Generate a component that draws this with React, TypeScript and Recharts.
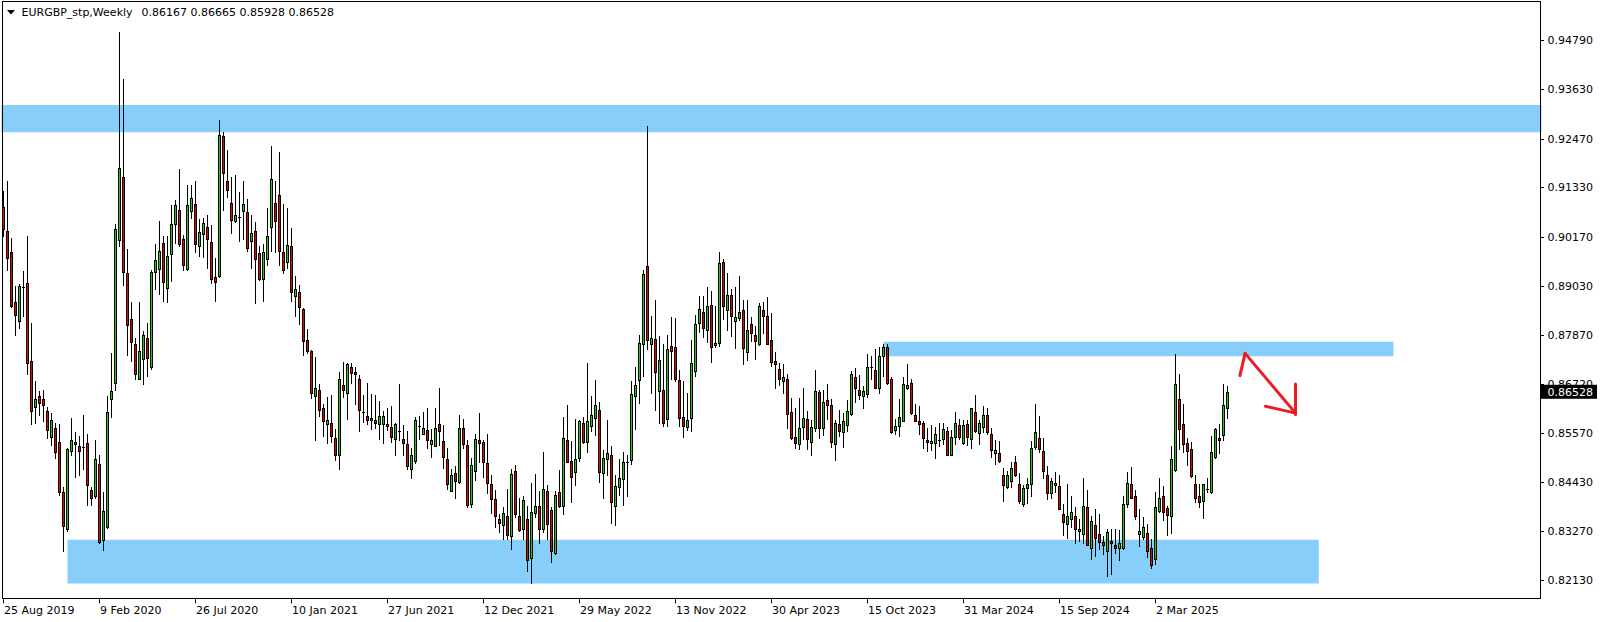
import React from 'react';
import { ComposedChart, Bar, XAxis, YAxis, ReferenceArea, ReferenceLine } from 'recharts';

// weekly EURGBP candles, [open, high, low, close], first bar = 25 Aug 2019
const candles: [number, number, number, number][] = [
  [0.9087, 0.9125, 0.9018, 0.9035], [0.9031, 0.9148, 0.8939, 0.8968], [0.8982, 0.9015, 0.8853, 0.8855], [0.8865, 0.8902, 0.8788, 0.8833],
  [0.8821, 0.8906, 0.8803, 0.8902], [0.8899, 0.8938, 0.8832, 0.8899], [0.8909, 0.902, 0.8696, 0.8722], [0.8726, 0.8814, 0.8578, 0.8608],
  [0.8619, 0.8679, 0.858, 0.8636], [0.8645, 0.8655, 0.8599, 0.8628], [0.8638, 0.8659, 0.8586, 0.8623], [0.8608, 0.8619, 0.8546, 0.8565],
  [0.8548, 0.8604, 0.8529, 0.8589], [0.857, 0.8582, 0.8499, 0.8513], [0.8536, 0.8578, 0.8413, 0.8419], [0.8419, 0.8432, 0.828, 0.834],
  [0.8333, 0.8522, 0.8327, 0.8519], [0.8516, 0.8593, 0.8505, 0.8542], [0.8531, 0.8559, 0.8454, 0.8536], [0.8526, 0.855, 0.8458, 0.8516],
  [0.8525, 0.8599, 0.8473, 0.8525], [0.8533, 0.8556, 0.8389, 0.8436], [0.8423, 0.843, 0.8389, 0.8404], [0.841, 0.854, 0.8406, 0.8497],
  [0.8484, 0.8507, 0.8299, 0.8302], [0.8306, 0.8419, 0.8284, 0.8374], [0.8336, 0.8645, 0.8335, 0.8606], [0.8638, 0.8746, 0.8596, 0.8655],
  [0.8675, 0.9048, 0.8658, 0.9035], [0.9009, 0.9498, 0.8996, 0.9178], [0.9157, 0.9387, 0.8904, 0.8934], [0.8932, 0.8988, 0.8741, 0.881],
  [0.8825, 0.8865, 0.8726, 0.8771], [0.8766, 0.8779, 0.8685, 0.8696], [0.8685, 0.8865, 0.8683, 0.875], [0.8731, 0.8797, 0.8673, 0.8788],
  [0.878, 0.8816, 0.8692, 0.8733], [0.8712, 0.8939, 0.8707, 0.8934], [0.8935, 0.9001, 0.8894, 0.8962], [0.8942, 0.9055, 0.8883, 0.8985],
  [0.9002, 0.9018, 0.8866, 0.8911], [0.8898, 0.9018, 0.8865, 0.8972], [0.8978, 0.9091, 0.8913, 0.9048], [0.9048, 0.9104, 0.9002, 0.9091],
  [0.908, 0.9177, 0.8996, 0.9001], [0.9012, 0.9022, 0.8939, 0.8951], [0.8942, 0.9138, 0.8939, 0.9091], [0.9078, 0.9138, 0.9061, 0.9108],
  [0.9095, 0.9147, 0.8981, 0.9001], [0.8996, 0.9059, 0.8972, 0.9028], [0.9024, 0.9061, 0.8969, 0.905], [0.9039, 0.9069, 0.8945, 0.9012],
  [0.9005, 0.9045, 0.8908, 0.8918], [0.8922, 0.8968, 0.8866, 0.8911], [0.8926, 0.9291, 0.8924, 0.9256], [0.9254, 0.9262, 0.9081, 0.9166],
  [0.9148, 0.9221, 0.9111, 0.9127], [0.9097, 0.9157, 0.9025, 0.9057], [0.9054, 0.9162, 0.9051, 0.9068], [0.9063, 0.9123, 0.9007, 0.9063],
  [0.9078, 0.9148, 0.9011, 0.9093], [0.9076, 0.9106, 0.8984, 0.899], [0.9008, 0.9069, 0.8945, 0.9026], [0.9031, 0.9051, 0.8862, 0.8965],
  [0.8979, 0.8996, 0.8915, 0.8919], [0.8918, 0.9001, 0.8866, 0.8982], [0.8965, 0.9085, 0.8952, 0.902], [0.9041, 0.9231, 0.8984, 0.9153],
  [0.9097, 0.9148, 0.8981, 0.9054], [0.9114, 0.9215, 0.8952, 0.8984], [0.8982, 0.9095, 0.8932, 0.8939], [0.8958, 0.9085, 0.8945, 0.8998],
  [0.8996, 0.9038, 0.8866, 0.8888], [0.8879, 0.8925, 0.8831, 0.8894], [0.8887, 0.8905, 0.8812, 0.8853], [0.8848, 0.8851, 0.8741, 0.8773],
  [0.8775, 0.8801, 0.8746, 0.875], [0.8749, 0.8752, 0.864, 0.8652], [0.8643, 0.8735, 0.8542, 0.8664], [0.8658, 0.8672, 0.8598, 0.8612],
  [0.8615, 0.8626, 0.855, 0.8585], [0.8578, 0.8642, 0.8535, 0.8589], [0.8582, 0.8647, 0.8537, 0.855], [0.8546, 0.8566, 0.8495, 0.8505],
  [0.8505, 0.87, 0.8473, 0.8685], [0.8669, 0.8724, 0.8642, 0.8659], [0.8652, 0.8722, 0.8591, 0.8718], [0.8713, 0.8722, 0.8675, 0.8699],
  [0.87, 0.8711, 0.8625, 0.8696], [0.8685, 0.8694, 0.8561, 0.8612], [0.8606, 0.8646, 0.8583, 0.8606], [0.8598, 0.8675, 0.8578, 0.8589],
  [0.8589, 0.8649, 0.8567, 0.8593], [0.8589, 0.8646, 0.857, 0.8582], [0.8579, 0.8632, 0.8543, 0.8598], [0.8578, 0.8608, 0.8533, 0.8598],
  [0.8578, 0.8617, 0.8565, 0.8574], [0.8572, 0.8621, 0.8537, 0.8548], [0.8544, 0.8582, 0.8506, 0.8578], [0.8563, 0.8672, 0.8542, 0.8563],
  [0.8544, 0.8576, 0.8505, 0.8535], [0.8531, 0.8561, 0.8473, 0.8479], [0.8473, 0.8522, 0.8453, 0.8505], [0.8492, 0.8596, 0.8486, 0.8589],
  [0.8574, 0.8598, 0.8543, 0.8574], [0.8556, 0.8606, 0.8555, 0.857], [0.8565, 0.8617, 0.8522, 0.854], [0.8531, 0.8567, 0.8501, 0.8542],
  [0.8527, 0.8615, 0.8527, 0.857], [0.8578, 0.8662, 0.8529, 0.8561], [0.8539, 0.8576, 0.8476, 0.8501], [0.8496, 0.8522, 0.8426, 0.8439],
  [0.8422, 0.8473, 0.8422, 0.846], [0.8463, 0.8479, 0.8406, 0.8446], [0.8443, 0.8599, 0.844, 0.857], [0.857, 0.8591, 0.8523, 0.8531],
  [0.8529, 0.854, 0.8385, 0.8389], [0.8392, 0.8499, 0.8383, 0.8483], [0.8469, 0.8555, 0.8447, 0.8544], [0.8542, 0.8604, 0.849, 0.8535],
  [0.8536, 0.854, 0.8454, 0.8489], [0.8486, 0.8555, 0.8417, 0.844], [0.8439, 0.8458, 0.837, 0.8402], [0.8403, 0.8423, 0.8338, 0.8362],
  [0.8357, 0.8368, 0.8326, 0.8347], [0.8343, 0.8385, 0.8308, 0.837], [0.8364, 0.8426, 0.8308, 0.8319], [0.8317, 0.8473, 0.8286, 0.8462],
  [0.8469, 0.8482, 0.836, 0.8368], [0.8363, 0.8406, 0.8327, 0.8329], [0.8333, 0.841, 0.8308, 0.84], [0.8357, 0.8386, 0.8233, 0.8259],
  [0.8265, 0.844, 0.8205, 0.8372], [0.837, 0.8462, 0.836, 0.8387], [0.8387, 0.8422, 0.8299, 0.8333], [0.8332, 0.8514, 0.8325, 0.8426],
  [0.8422, 0.8436, 0.831, 0.8344], [0.8376, 0.8385, 0.8254, 0.8282], [0.8277, 0.8422, 0.8273, 0.8411], [0.842, 0.8471, 0.8383, 0.8386],
  [0.8387, 0.8595, 0.8368, 0.8546], [0.854, 0.8623, 0.8489, 0.849], [0.8492, 0.8539, 0.8396, 0.8454], [0.8465, 0.8591, 0.8436, 0.8497],
  [0.8499, 0.8587, 0.8492, 0.8585], [0.8582, 0.8595, 0.8533, 0.8537], [0.8537, 0.8722, 0.8513, 0.8586], [0.8574, 0.8643, 0.8563, 0.8599],
  [0.8593, 0.8681, 0.8553, 0.8622], [0.8612, 0.8629, 0.8443, 0.8465], [0.8463, 0.8518, 0.8406, 0.8499], [0.8497, 0.8587, 0.846, 0.851],
  [0.8507, 0.8526, 0.8346, 0.8396], [0.8387, 0.8458, 0.8343, 0.8434], [0.843, 0.8496, 0.8413, 0.8453], [0.845, 0.8514, 0.8389, 0.849],
  [0.8489, 0.8505, 0.841, 0.8489], [0.8495, 0.8679, 0.8484, 0.8649], [0.8645, 0.8713, 0.8566, 0.867], [0.8681, 0.8788, 0.8628, 0.8769],
  [0.8765, 0.8939, 0.8692, 0.893], [0.8949, 0.9277, 0.8755, 0.8776], [0.8766, 0.8832, 0.8651, 0.878], [0.8778, 0.8868, 0.8612, 0.87],
  [0.8656, 0.8784, 0.8582, 0.8729], [0.8658, 0.8767, 0.8574, 0.8582], [0.8591, 0.8786, 0.8574, 0.8755], [0.8761, 0.8829, 0.8683, 0.8749],
  [0.8758, 0.8827, 0.8679, 0.8685], [0.8681, 0.8705, 0.8574, 0.8593], [0.8596, 0.8679, 0.8549, 0.8574], [0.8572, 0.8651, 0.8565, 0.8589],
  [0.8593, 0.8775, 0.8563, 0.8722], [0.8703, 0.8835, 0.8692, 0.8812], [0.8814, 0.8879, 0.8793, 0.8849], [0.8842, 0.8878, 0.8782, 0.8803],
  [0.8799, 0.8899, 0.8771, 0.8855], [0.8857, 0.8889, 0.8724, 0.8758], [0.8763, 0.8855, 0.8758, 0.8769], [0.8769, 0.8981, 0.8761, 0.8956],
  [0.8958, 0.8966, 0.8825, 0.8855], [0.8846, 0.8932, 0.8799, 0.8881], [0.8881, 0.8894, 0.8785, 0.8831], [0.8819, 0.8899, 0.8756, 0.8829],
  [0.8827, 0.8926, 0.8822, 0.8842], [0.8846, 0.8868, 0.872, 0.8756], [0.8748, 0.8868, 0.8728, 0.8799], [0.8812, 0.8829, 0.8773, 0.8792],
  [0.8786, 0.8809, 0.8731, 0.8773], [0.8767, 0.8862, 0.8763, 0.8855], [0.8846, 0.8865, 0.8792, 0.8831], [0.8832, 0.8876, 0.8766, 0.8766],
  [0.8776, 0.8838, 0.8715, 0.8724], [0.8726, 0.8748, 0.8664, 0.8718], [0.8707, 0.8722, 0.867, 0.8685], [0.8679, 0.872, 0.8651, 0.8688],
  [0.8685, 0.8696, 0.8569, 0.8602], [0.8606, 0.8639, 0.8544, 0.8546], [0.8548, 0.8616, 0.8523, 0.8535], [0.8531, 0.8639, 0.852, 0.857],
  [0.8572, 0.8662, 0.8544, 0.8593], [0.8591, 0.8609, 0.852, 0.8544], [0.8537, 0.8587, 0.8506, 0.8572], [0.857, 0.8705, 0.8563, 0.8656],
  [0.8653, 0.8659, 0.8546, 0.857], [0.857, 0.8658, 0.8553, 0.8629], [0.8634, 0.8672, 0.8591, 0.8623], [0.8622, 0.8636, 0.8525, 0.8537],
  [0.8531, 0.8589, 0.8495, 0.8582], [0.8578, 0.8612, 0.855, 0.8561], [0.8559, 0.8604, 0.8525, 0.8586], [0.8576, 0.8634, 0.8561, 0.8608],
  [0.8602, 0.8702, 0.8599, 0.8696], [0.8688, 0.8709, 0.863, 0.8664], [0.8659, 0.8694, 0.8636, 0.8647], [0.8645, 0.8668, 0.8616, 0.8655],
  [0.8649, 0.8743, 0.8642, 0.8711], [0.8712, 0.8737, 0.8683, 0.8712], [0.8706, 0.8755, 0.8664, 0.8664], [0.8664, 0.8758, 0.8651, 0.8739],
  [0.8739, 0.8767, 0.8692, 0.8758], [0.8758, 0.8767, 0.8672, 0.8675], [0.8683, 0.8689, 0.8557, 0.8559], [0.8565, 0.8591, 0.8556, 0.8574],
  [0.8574, 0.8636, 0.855, 0.8596], [0.8586, 0.8688, 0.8586, 0.8673], [0.8664, 0.8718, 0.866, 0.867], [0.8675, 0.8685, 0.8602, 0.8604],
  [0.86, 0.8625, 0.8585, 0.8586], [0.8586, 0.8621, 0.8556, 0.8578], [0.8582, 0.8585, 0.8523, 0.8546], [0.8542, 0.857, 0.8516, 0.8536],
  [0.8533, 0.8576, 0.8518, 0.8539], [0.8535, 0.8572, 0.8499, 0.8556], [0.8542, 0.858, 0.8527, 0.8542], [0.8543, 0.8582, 0.8531, 0.8567],
  [0.8563, 0.8572, 0.8505, 0.8507], [0.8505, 0.8565, 0.8505, 0.8549], [0.8549, 0.8606, 0.8531, 0.858], [0.8576, 0.8591, 0.8543, 0.8549],
  [0.8535, 0.8589, 0.8531, 0.8576], [0.8579, 0.8589, 0.8529, 0.8549], [0.8543, 0.8616, 0.8523, 0.8616], [0.8606, 0.8647, 0.8559, 0.8561],
  [0.8557, 0.8589, 0.8531, 0.858], [0.8572, 0.8621, 0.8559, 0.86], [0.86, 0.8616, 0.8556, 0.8559], [0.8556, 0.857, 0.8501, 0.8518],
  [0.851, 0.8542, 0.8484, 0.8518], [0.851, 0.8539, 0.849, 0.8492], [0.8458, 0.8475, 0.8398, 0.8436], [0.843, 0.8469, 0.8428, 0.8458],
  [0.8446, 0.8489, 0.8432, 0.8476], [0.849, 0.8503, 0.8456, 0.8458], [0.8439, 0.8463, 0.8393, 0.8398], [0.8392, 0.8436, 0.8386, 0.8428],
  [0.8428, 0.8453, 0.8393, 0.8439], [0.8439, 0.8539, 0.841, 0.8522], [0.8525, 0.8626, 0.852, 0.8559], [0.8546, 0.8598, 0.8513, 0.852],
  [0.8516, 0.8546, 0.8453, 0.8469], [0.846, 0.8479, 0.8403, 0.8417], [0.8416, 0.8452, 0.8406, 0.8445], [0.8436, 0.8467, 0.8419, 0.8441],
  [0.8434, 0.8458, 0.8379, 0.838], [0.8368, 0.839, 0.8319, 0.835], [0.8344, 0.8437, 0.8312, 0.8364], [0.8355, 0.841, 0.8338, 0.8372],
  [0.8364, 0.8383, 0.8299, 0.8332], [0.8327, 0.8356, 0.8304, 0.8333], [0.8321, 0.8452, 0.8299, 0.8387], [0.8385, 0.8423, 0.8295, 0.8296],
  [0.8287, 0.8362, 0.8263, 0.8351], [0.8342, 0.8379, 0.8269, 0.8312], [0.832, 0.8368, 0.8286, 0.8303], [0.8302, 0.8316, 0.8273, 0.8296],
  [0.8282, 0.8332, 0.8223, 0.8325], [0.8304, 0.8332, 0.8226, 0.83], [0.8295, 0.8332, 0.8277, 0.8289], [0.8287, 0.8329, 0.826, 0.8299],
  [0.8289, 0.841, 0.8286, 0.839], [0.839, 0.8466, 0.8385, 0.8441], [0.8437, 0.8477, 0.8406, 0.8406], [0.841, 0.8423, 0.8357, 0.8362],
  [0.8321, 0.838, 0.8293, 0.8327], [0.8313, 0.836, 0.8308, 0.8338], [0.8323, 0.8344, 0.8267, 0.828], [0.8287, 0.8308, 0.8241, 0.8248],
  [0.8263, 0.842, 0.825, 0.8383], [0.8374, 0.8453, 0.8372, 0.8406], [0.841, 0.8433, 0.8353, 0.8373], [0.8381, 0.8387, 0.8319, 0.8366],
  [0.8362, 0.8526, 0.8323, 0.8497], [0.8471, 0.8742, 0.8469, 0.8673], [0.8638, 0.8696, 0.852, 0.8566], [0.8578, 0.8626, 0.8513, 0.8531],
  [0.8535, 0.8546, 0.8482, 0.8516], [0.8519, 0.8536, 0.8454, 0.8456], [0.8439, 0.846, 0.8396, 0.8406], [0.841, 0.8439, 0.8383, 0.8396],
  [0.8398, 0.8439, 0.8359, 0.8437], [0.8426, 0.8452, 0.842, 0.8426], [0.842, 0.855, 0.8416, 0.8513], [0.8501, 0.857, 0.8499, 0.8567],
  [0.8546, 0.8578, 0.851, 0.8542], [0.8553, 0.8673, 0.854, 0.8623], [0.86167, 0.86665, 0.85928, 0.86528],
];

const dateLabels = [
  '25 Aug 2019', '9 Feb 2020', '26 Jul 2020', '10 Jan 2021', '27 Jun 2021', '12 Dec 2021', '29 May 2022',
  '13 Nov 2022', '30 Apr 2023', '15 Oct 2023', '31 Mar 2024', '15 Sep 2024', '2 Mar 2025',
];
const weeksPerLabel = 24;

const priceTicks = [0.9479, 0.9363, 0.9247, 0.9133, 0.9017, 0.8903, 0.8787, 0.8672, 0.8557, 0.8443, 0.8327, 0.8213];
const lastPrice = 0.86528;

// supply / demand zones: [from bar, to bar, upper price, lower price]
const zones: [number, number, number, number][] = [
  [-0.5, 384.5, 0.9326, 0.9262],
  [220, 347.5, 0.8771, 0.8737],
  [16, 328.8, 0.8307, 0.8205],
];

// hand-drawn arrow, [bar, price] pairs
const arrow: [number, number][][] = [
  [[309.1, 0.8692], [310.4, 0.8744]],
  [[310.4, 0.8744], [323, 0.8604]],
  [[315.5, 0.8620], [323, 0.8604]],
  [[323, 0.8672], [323, 0.8601]],
];

const slots = 385;
const rows = Array.from({ length: slots }, (_, i) => {
  const k = candles[i];
  return k ? { i, o: k[0], h: k[1], l: k[2], c: k[3], range: [k[2], k[1]] } : { i };
});

const font = { fontFamily: 'DejaVu Sans', fontSize: 11 };

const Candle = (props: any) => {
  const { x, y, width, height, payload } = props;
  if (!payload || payload.o == null || !isFinite(y) || !isFinite(height)) return <g />;
  const { o, h, l, c } = payload;
  const k = height / (h - l);
  const py = (v: number) => y + (h - v) * k;
  const cx = x + width / 2;
  const top = Math.round(py(Math.max(o, c)));
  const bot = Math.round(py(Math.min(o, c)));
  return (
    <g>
      <line x1={cx} x2={cx} y1={Math.round(y)} y2={Math.round(y + height) + 1} stroke="#000" strokeWidth={1} />
      {bot - top < 1 ? (
        <line x1={cx - 1.5} x2={cx + 1.5} y1={top + 0.5} y2={top + 0.5} stroke="#000" strokeWidth={1} />
      ) : (
        <rect x={cx - 1} y={top + 0.5} width={2} height={bot - top} fill={c > o ? '#00dc00' : '#e60000'} stroke="#000" strokeWidth={1} />
      )}
    </g>
  );
};

const DateTick = (props: any) => {
  const { x, y, payload } = props;
  const label = dateLabels[Math.round(payload.value / weeksPerLabel)];
  return (
    <g>
      <line x1={x} x2={x} y1={y + 1} y2={y + 5} stroke="#000" />
      <text x={x + 0.5} y={613.5} {...font} fill="#000">{label}</text>
    </g>
  );
};

const PriceTick = (props: any) => {
  const { x, y, payload } = props;
  if (payload.value === lastPrice) {
    return (
      <g>
        <rect x={x - 0.5} y={y - 7.5} width={56} height={14} fill="#000" />
        <text x={x + 6} y={y + 4} {...font} fill="#fff">{lastPrice.toFixed(5)}</text>
      </g>
    );
  }
  const yy = Math.round(y) + 0.5;
  return (
    <g>
      <line x1={x - 0.5} x2={x + 2.5} y1={yy} y2={yy} stroke="#000" />
      <text x={x + 6} y={y + 4} {...font} fill="#000">{payload.value.toFixed(5)}</text>
    </g>
  );
};

export default function App() {
  return (
    <div style={{ position: 'absolute', left: 0, top: 0, width: 1604, height: 622, background: '#fff' }}>
      <ComposedChart
        width={1604}
        height={622}
        data={rows}
        margin={{ top: 2, right: 0, left: 1.5, bottom: 0 }}
        barCategoryGap={0}
      >
        <XAxis
          xAxisId="cat"
          dataKey="i"
          type="category"
          height={23.7}
          ticks={dateLabels.map((_, n) => n * weeksPerLabel)}
          interval={0}
          axisLine={false}
          tickLine={false}
          tickSize={0}
          tickMargin={0}
          tick={DateTick}
        />
        <XAxis xAxisId="num" dataKey="i" type="number" domain={[-0.5, slots - 0.5]} allowDataOverflow hide />
        <YAxis
          orientation="right"
          type="number"
          width={62.5}
          domain={[0.81701, 0.95673]}
          allowDataOverflow
          ticks={[...priceTicks, lastPrice]}
          interval={0}
          axisLine={false}
          tickLine={false}
          tickSize={0}
          tickMargin={0}
          tick={PriceTick}
        />
        {zones.map(([x1, x2, top, bottom], n) => (
          <ReferenceArea
            key={`z${n}`}
            xAxisId="num"
            x1={x1}
            x2={x2}
            y1={bottom}
            y2={top}
            fill="#87cefa"
            fillOpacity={1}
            stroke="none"
          />
        ))}
        <Bar xAxisId="cat" dataKey="range" shape={Candle} isAnimationActive={false} />
        {arrow.map((seg, n) => (
          <ReferenceLine
            key={`a${n}`}
            xAxisId="num"
            segment={seg.map(([x, y]) => ({ x, y }))}
            stroke="#ec1c24"
            strokeWidth={3}
            strokeLinecap="round"
          />
        ))}
      </ComposedChart>
      <svg width={1604} height={622} style={{ position: 'absolute', left: 0, top: 0, pointerEvents: 'none' }}>
        <rect x={2.5} y={1.5} width={1538} height={597} fill="none" stroke="#000" />
        <polygon points="7,10 15,10 11,14.5" fill="#000" />
        <text x={21.5} y={16} {...font} fill="#000">EURGBP_stp,Weekly</text>
        <text x={141.5} y={16} {...font} fill="#000">0.86167 0.86665 0.85928 0.86528</text>
      </svg>
    </div>
  );
}
